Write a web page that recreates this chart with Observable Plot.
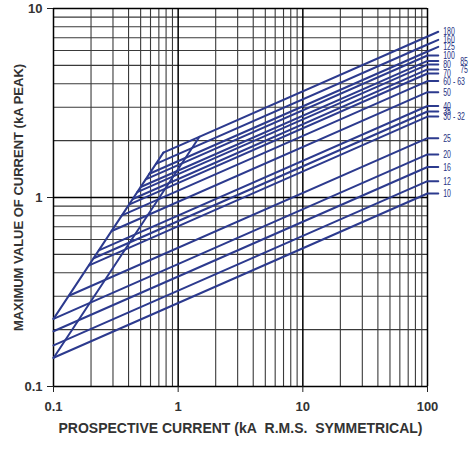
<!DOCTYPE html>
<html>
<head>
<meta charset="utf-8">
<script src="https://cdn.jsdelivr.net/npm/d3@7"></script>
<script src="https://cdn.jsdelivr.net/npm/@observablehq/plot@0.6"></script>
<style>
  html, body { margin: 0; padding: 0; background: #fff; }
  #chart { width: 470px; height: 449px; }
  #chart svg { display: block; }
</style>
</head>
<body>
<div id="chart"></div>
<script>
// Fuse ratings (A) and their cut-off lines on log–log axes
const ratings      = ["10", "12", "16", "20", "25", "30 - 32", "35", "40", "50", "60 - 63", "70", "75", "80", "85", "100", "125", "160", "180"];
// prospective current (kA) and peak (kA) where each line leaves the envelope
const startCurrent = [0.1, 0.1, 0.1, 0.1, 0.133, 0.193, 0.210, 0.231, 0.293, 0.354, 0.403, 0.433, 0.470, 0.501, 0.549, 0.588, 0.664, 0.761];
const startPeak    = [0.142, 0.165, 0.196, 0.228, 0.302, 0.437, 0.477, 0.525, 0.665, 0.804, 0.916, 0.982, 1.067, 1.136, 1.247, 1.335, 1.506, 1.728];
// peak let-through (kA) at 100 kA prospective
const peakAt100    = [1.05, 1.22, 1.45, 1.69, 2.06, 2.68, 2.85, 3.05, 3.61, 4.13, 4.53, 4.76, 5.05, 5.28, 5.64, 5.92, 6.45, 7.11];
// peak (kA) at the label end of each line
const labelPeak    = [1.05, 1.22, 1.45, 1.69, 2.06, 2.68, 2.85, 3.05, 3.61, 4.13, 4.53, 4.76, 5.05, 5.28, 5.64, 6.27, 6.83, 7.53];

// unlimited peak lines: asymmetrical envelope and symmetrical (√2 × rms)
const asymCurrent = [0.1, 0.761];
const asymPeak    = [0.228, 1.728];
const symCurrent  = [0.1, 1.482];
const symPeak     = [0.1414, 2.096];

const xTickValues = [0.1, 1, 10, 100];
const yTickValues = [0.1, 1, 10];
const xTitle = "PROSPECTIVE CURRENT (kA\u00A0 R.M.S.\u00A0 SYMMETRICAL)";
const yTitle = "MAXIMUM VALUE OF CURRENT (kA PEAK)";

const labelEnd = 122;               // kA, end of the label leaders
const outerColumn = new Set(["85", "75"]);

const lineRows = ratings.flatMap((r, i) => [
  {r, x: startCurrent[i], y: startPeak[i]},
  {r, x: 100, y: peakAt100[i]},
  {r, x: labelEnd, y: labelPeak[i]}
]);
const labelRows = ratings.map((r, i) => ({r, y: labelPeak[i]}));
const asymRows = asymCurrent.map((x, i) => ({x, y: asymPeak[i]}));
const symRows = symCurrent.map((x, i) => ({x, y: symPeak[i]}));

const xGrid = d3.scaleLog().domain([0.1, 100]).ticks();
const yGrid = d3.scaleLog().domain([0.1, 10]).ticks();
const decade = v => Math.abs(Math.log10(v) - Math.round(Math.log10(v))) < 1e-9;

const navy = "#2c3a8e";
const labelInk = "#25327f";
const axisFont = "'Liberation Sans', Arial, sans-serif";

const chart = Plot.plot({
  width: 470,
  height: 449,
  marginLeft: 53,
  marginRight: 43,
  marginTop: 8,
  marginBottom: 63,
  style: {background: "#fff", fontFamily: axisFont},
  x: {type: "log", domain: [0.1, 100]},
  y: {type: "log", domain: [0.1, 10]},
  marks: [
    Plot.ruleX(xGrid.filter(v => !decade(v)), {stroke: "#3a3a3a", strokeWidth: 1.1}),
    Plot.ruleY(yGrid.filter(v => !decade(v)), {stroke: "#3a3a3a", strokeWidth: 1.1}),
    Plot.ruleX(xGrid.filter(decade), {stroke: "#000", strokeWidth: 1.5}),
    Plot.ruleY(yGrid.filter(decade), {stroke: "#000", strokeWidth: 1.5}),
    Plot.axisX({ticks: xTickValues, tickFormat: d => String(d), tickSize: 6, tickPadding: 9,
      fontSize: 13, fontWeight: "bold", fill: "#333", stroke: "#222", label: null}),
    Plot.axisY({ticks: yTickValues, tickFormat: d => String(d), tickSize: 6, tickPadding: 5,
      fontSize: 13, fontWeight: "bold", fill: "#333", stroke: "#222", label: null}),
    Plot.line(asymRows, {x: "x", y: "y", stroke: navy, strokeWidth: 2}),
    Plot.line(symRows, {x: "x", y: "y", stroke: navy, strokeWidth: 2}),
    Plot.line(lineRows, {x: "x", y: "y", z: "r", stroke: navy, strokeWidth: 2}),
    Plot.text(labelRows.filter(d => !outerColumn.has(d.r)), {x: labelEnd, y: "y", text: "r", dx: 5,
      textAnchor: "start", fill: labelInk, fontSize: 11.2}),
    Plot.text(labelRows.filter(d => outerColumn.has(d.r)), {x: labelEnd, y: "y", text: "r", dx: 22,
      textAnchor: "start", fill: labelInk, fontSize: 11.2}),
    Plot.text([xTitle], {frameAnchor: "bottom", dy: 46, textAnchor: "middle",
      fontSize: 14, fontWeight: "bold", fill: "#333"}),
    Plot.text([yTitle], {frameAnchor: "left", dx: -35, rotate: -90, textAnchor: "middle",
      fontSize: 13, fontWeight: "bold", fill: "#333"})
  ]
});

document.getElementById("chart").appendChild(chart);

// Rating labels are set in a condensed face: compress each glyph run to ~62% width
d3.select(chart).selectAll(`g[fill='${labelInk}'] text`).each(function () {
  const w = this.getComputedTextLength();
  if (w > 0) {
    this.setAttribute("textLength", (w * 0.62).toFixed(2));
    this.setAttribute("lengthAdjust", "spacingAndGlyphs");
  }
});
</script>
</body>
</html>
